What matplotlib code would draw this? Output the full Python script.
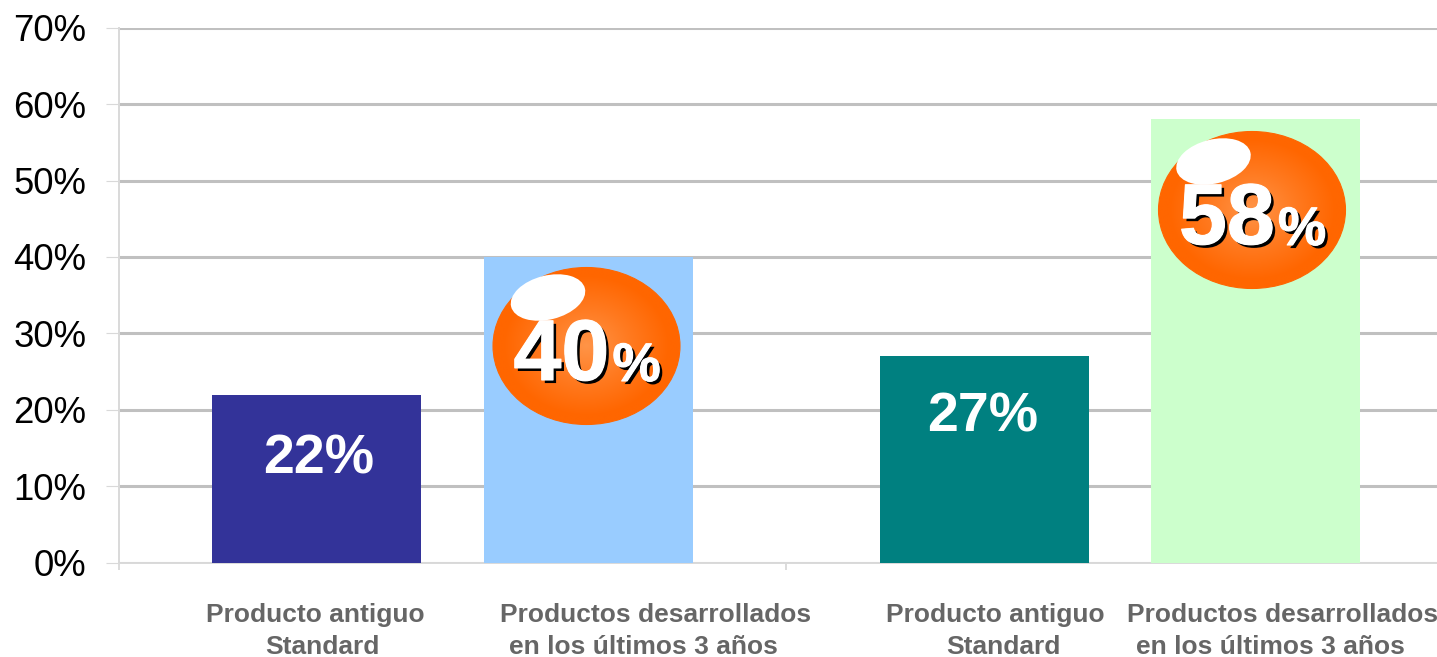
import numpy as np
import matplotlib
matplotlib.use("Agg")
import matplotlib.pyplot as plt
import matplotlib.patheffects as pe
from matplotlib.colors import LinearSegmentedColormap
from matplotlib.patches import Ellipse

plt.rcParams["font.family"] = ["Liberation Sans", "DejaVu Sans"]

W, H = 1437, 657

values = [22, 40, 27, 58]
bar_colors = ["#333399", "#99CCFF", "#008080", "#CCFFCC"]
bar_positions = [0.296, 0.704, 1.298, 1.704]
y_ticks = [0, 10, 20, 30, 40, 50, 60, 70]
label_line1 = ["Producto antiguo", "Productos desarrollados", "Producto antiguo", "Productos desarrollados"]
label_line2 = ["Standard", "en los últimos 3 años", "Standard", "en los últimos 3 años"]

fig = plt.figure(figsize=(W / 100, H / 100), dpi=100, facecolor="white")

# main plot area: two category groups, the second running past the right edge
ax = fig.add_axes([119 / W, 1 - 562.7 / H, (W - 119) / W, 535 / H])
ax.set_xlim(0, (W - 119) / 667)
ax.set_ylim(0, 70)
ax.set_axisbelow(True)
ax.yaxis.grid(True, color="#C0C0C0", lw=2.2)
ax.set_yticks(y_ticks)
ax.set_yticklabels([f"{v}%" for v in y_ticks], fontsize=26.3, color="black")
ax.set_xticks([0, 1])
ax.set_xticklabels([])
ax.tick_params(axis="y", color="#D9D9D9", width=0.8, length=9.4, pad=14)
ax.tick_params(axis="x", color="#D9D9D9", width=1.3, length=5)
for side in ("top", "right"):
    ax.spines[side].set_visible(False)
for side in ("left", "bottom"):
    ax.spines[side].set_color("#D9D9D9")
    ax.spines[side].set_linewidth(1.4)
ax.bar(bar_positions, values, width=0.3135, color=bar_colors, zorder=3)

# overlay in pixel coordinates for annotations
ov = fig.add_axes([0, 0, 1, 1], facecolor="none")

# category captions, each line placed on its own
line1_x = [315, 656, 995, 1283]
line2_x = [322, 643, 1003, 1270]
for x1, x2, a, b in zip(line1_x, line2_x, label_line1, label_line2):
    ov.text(x1, 615, a, ha="center", va="center", fontsize=19, fontweight="bold", color="#666666")
    ov.text(x2, 647, b, ha="center", va="center", fontsize=19, fontweight="bold", color="#666666")

# labels inside the plain bars
ov.text(319, 459, f"{values[0]}%", ha="center", va="center", fontsize=40, fontweight="bold", color="white")
ov.text(983, 417, f"{values[2]}%", ha="center", va="center", fontsize=40, fontweight="bold", color="white")

cmap = LinearSegmentedColormap.from_list(
    "badge", [(0, "#FF9447"), (0.45, "#FF7A20"), (0.85, "#FF6600"), (1, "#FF6600")])
yy, xx = np.mgrid[-1:1:400j, -1:1:400j]
radial = np.clip(np.hypot(xx, yy), 0, 1)

# hard black drop shadow under slightly thickened white digits
hard_shadow = [
    pe.SimplePatchShadow(offset=(2.2, -2.2), shadow_rgbFace="black", alpha=1.0),
    pe.Stroke(linewidth=0.8, foreground="white"),
    pe.Normal(),
]


def shadowed(x, y, s, size):
    ov.text(x, y, s, ha="left", va="baseline", fontsize=size, fontweight="bold",
            color="white", zorder=7, path_effects=hard_shadow)


def badge(cx, cy, value):
    w, h = 187, 157
    pad = 4
    img = ov.imshow(radial, cmap=cmap, vmin=0, vmax=1, aspect="auto", zorder=4,
                    extent=(cx - w / 2 - pad, cx + w / 2 + pad, cy + h / 2 + pad, cy - h / 2 - pad))
    img.set_clip_path(Ellipse((cx, cy), w, h, transform=ov.transData))
    ov.add_patch(Ellipse((cx, cy), w, h, facecolor="none", edgecolor="#FF6600", lw=0.8, zorder=4.5))
    ov.add_patch(Ellipse((cx - 38.5, cy - 48.5), 76, 44, angle=-14, facecolor="white", edgecolor="none", zorder=5))
    shadowed(cx - 73, cy + 34, str(value), 62)
    shadowed(cx + 26, cy + 35, "%", 39)


badge(586.5, 346, values[1])
badge(1252, 210, values[3])
ov.set_xlim(0, W)
ov.set_ylim(H, 0)
ov.axis("off")

fig.savefig("out.png", dpi=100, facecolor="white")
